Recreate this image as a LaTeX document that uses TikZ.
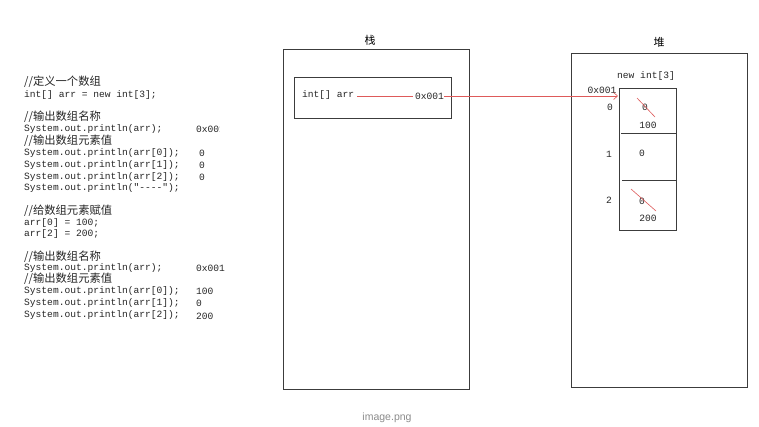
\documentclass[tikz,border=0pt]{standalone}
\usepackage{fontspec}
\setmonofont{Liberation Mono}
\setsansfont{Liberation Sans}
\newfontfamily\cjk{Noto Sans CJK SC}
\usepackage{xcolor}
\usetikzlibrary{positioning, arrows.meta}

\definecolor{linkred}{RGB}{222,90,90}
\definecolor{boxgray}{RGB}{60,60,60}

\tikzset{
  code/.style={anchor=west, inner sep=0pt, text=black!85, font=\ttfamily\fontsize{9.6}{11}\selectfont},
  cmt/.style={anchor=west, inner sep=0pt, text=black!85, font=\cjk\fontsize{11.3}{12}\selectfont},
  mem/.style={draw=boxgray, line width=0.7pt, inner sep=0pt},
  ptr/.style={draw=linkred, line width=0.6pt},
  lbl/.style={inner sep=0pt, text=black!85, font=\ttfamily\fontsize{9.6}{11}\selectfont},
  title/.style={inner sep=0pt, font=\cjk\fontsize{11}{12}\selectfont},
}

\begin{document}
\begin{tikzpicture}[x=1pt, y=-1pt]
    \useasboundingbox[fill=white] (0,0) rectangle (759,426);

    % code on the left
    \node[cmt]  (c1)  at (24,82)  {//定义一个数组};
    \node[code] (c2)  at (24,95)  {int[] arr = new int[3];};
    \node[cmt]  (c3)  at (24,117) {//输出数组名称};
    \node[code] (c4)  at (24,129) {System.out.println(arr);};
    \node[cmt]  (c5)  at (24,141) {//输出数组元素值};
    \node[code] (c6)  at (24,153) {System.out.println(arr[0]);};
    \node[code] (c7)  at (24,165) {System.out.println(arr[1]);};
    \node[code] (c8)  at (24,177) {System.out.println(arr[2]);};
    \node[code] (c9)  at (24,188) {System.out.println("----");};
    \node[cmt]  (c10) at (24,211) {//给数组元素赋值};
    \node[code] (c11) at (24,223) {arr[0] = 100;};
    \node[code] (c12) at (24,234) {arr[2] = 200;};
    \node[cmt]  (c13) at (24,257) {//输出数组名称};
    \node[code] (c14) at (24,268) {System.out.println(arr);};
    \node[cmt]  (c15) at (24,279) {//输出数组元素值};
    \node[code] (c16) at (24,291) {System.out.println(arr[0]);};
    \node[code] (c17) at (24,303) {System.out.println(arr[1]);};
    \node[code] (c18) at (24,315) {System.out.println(arr[2]);};

    % printed values
    \begin{scope}
      \clip (190,120) rectangle (219.5,138);
      \node[code] (o1) at (196,129) {0x001};
    \end{scope}
    \node[code] (o2) at (199,153) {0};
    \node[code] (o3) at (199,165) {0};
    \node[code] (o4) at (199,177) {0};
    \node[code] (o5) at (196,268) {0x001};
    \node[code] (o6) at (196,291) {100};
    \node[code] (o7) at (196,303) {0};
    \node[code] (o8) at (196,316) {200};

    % stack
    \node[mem, minimum width=186, minimum height=340] (stack) at (376,219) {};
    \node[title] (stacktitle) at (370,40) {栈};
    \node[mem, minimum width=157, minimum height=41] (frame) at (372.5,97.5) {};
    \node[lbl, anchor=west] (var) at (302,95) {int[] arr};
    \node[lbl, anchor=west] (addr) at (415,96) {0x001};
    \draw[ptr] ([xshift=3pt, yshift=-1.5pt]var.east) -- ([xshift=-2pt, yshift=-0.5pt]addr.west);

    % heap
    \node[mem, minimum width=176, minimum height=334] (heap) at (659,220) {};
    \node[title] (heaptitle) at (659,42) {堆};
    \node[lbl] (newarr) at (646,76) {new int[3]};
    \node[mem, minimum width=57, minimum height=142] (arr) at (647.5,159) {};
    \draw[mem] (621,133) -- (arr.east |- 0,133);
    \draw[mem] (622,180) -- (arr.east |- 0,180);
    \node[lbl] (heapaddr) at (602,90) {0x001};
    \node[lbl] (i0) at (610,107) {0};
    \node[lbl] (i1) at (609,154) {1};
    \node[lbl] (i2) at (609,200) {2};

    % cell values
    \node[lbl] (v0) at (645,107) {0};
    \node[lbl] (n0) at (648,125) {100};
    \node[lbl] (v1) at (642,153) {0};
    \node[lbl] (v2) at (642,201) {0};
    \node[lbl] (n2) at (648,218) {200};
    \draw[ptr] (637,98) -- (655,117);
    \draw[ptr] (631,189) -- (656,211);

    % reference
    \coordinate (arrin) at (618,96);
    \draw[ptr, -{Straight Barb[length=4pt, width=7pt]}] (addr.east) -- (arrin);

    \node[inner sep=0pt, text=black!45, font=\sffamily\fontsize{10.5}{12}\selectfont] (cap) at (387,418) {image.png};
\end{tikzpicture}
\end{document}
